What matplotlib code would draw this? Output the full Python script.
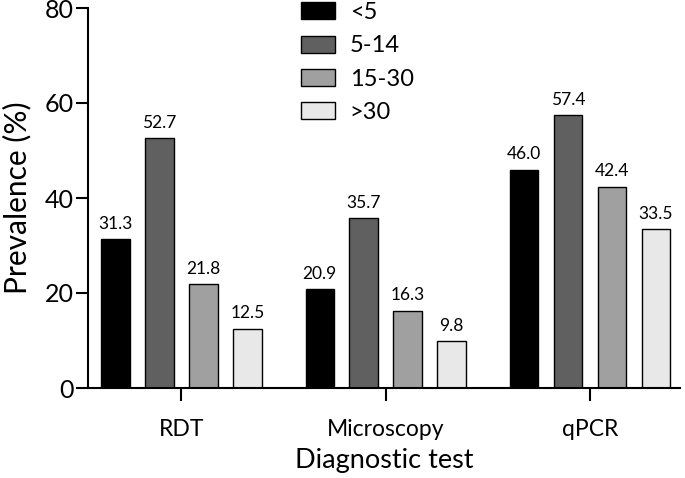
import matplotlib
matplotlib.use("Agg")
import matplotlib.pyplot as plt
import numpy as np
from matplotlib.patches import Patch

plt.rcParams['font.family'] = ['Lato', 'DejaVu Sans']

categories = ["RDT", "Microscopy", "qPCR"]
groups = ["<5", "5-14", "15-30", ">30"]
values = {
    "<5": [31.3, 20.9, 46.0],
    "5-14": [52.7, 35.7, 57.4],
    "15-30": [21.8, 16.3, 42.4],
    ">30": [12.5, 9.8, 33.5],
}
colors = ["#000000", "#606060", "#a0a0a0", "#e8e8e8"]
yticks = [0, 20, 40, 60, 80]

fig = plt.figure(figsize=(6.85, 4.78), dpi=100)
ax = fig.add_axes([88/685, 90/478, (680-88)/685, (388-8)/478])

x = np.arange(len(categories))
pitch = 0.215
width = 0.14
for i, g in enumerate(groups):
    off = (i - 1.5) * pitch
    bars = ax.bar(x + off, values[g], width, color=colors[i], edgecolor="black", linewidth=1.0)
    for b, v in zip(bars, values[g]):
        ax.text(b.get_x() + b.get_width()/2, v + 1.5, f"{v:.1f}", ha="center", va="bottom", fontsize=12.5)

ax.set_xlim(-0.457, 2.44)
ax.set_ylim(0, 80)
ax.set_yticks(yticks)
ax.set_xticks(x)
ax.set_xticklabels(categories, fontsize=16.5)
ax.tick_params(axis='y', labelsize=18, length=9, width=1.5, direction='out', pad=1)
ax.tick_params(axis='x', length=9, width=1.5, direction='out', pad=13)
for s in ["top", "right"]:
    ax.spines[s].set_visible(False)
for s in ["left", "bottom"]:
    ax.spines[s].set_linewidth(1.5)
ax.set_ylabel("Prevalence (%)", fontsize=21.5, labelpad=10)
ax.set_xlabel("Diagnostic test", fontsize=19.5, labelpad=6)

handles = [Patch(facecolor=c, edgecolor="black", linewidth=1.0) for c in colors]
fig.legend(handles, groups, loc="upper left", bbox_to_anchor=(280/685, 1.04), frameon=False,
           fontsize=17, handlelength=1.45, handleheight=0.72, labelspacing=0.52, handletextpad=0.6)

fig.savefig("out.png", dpi=100)
